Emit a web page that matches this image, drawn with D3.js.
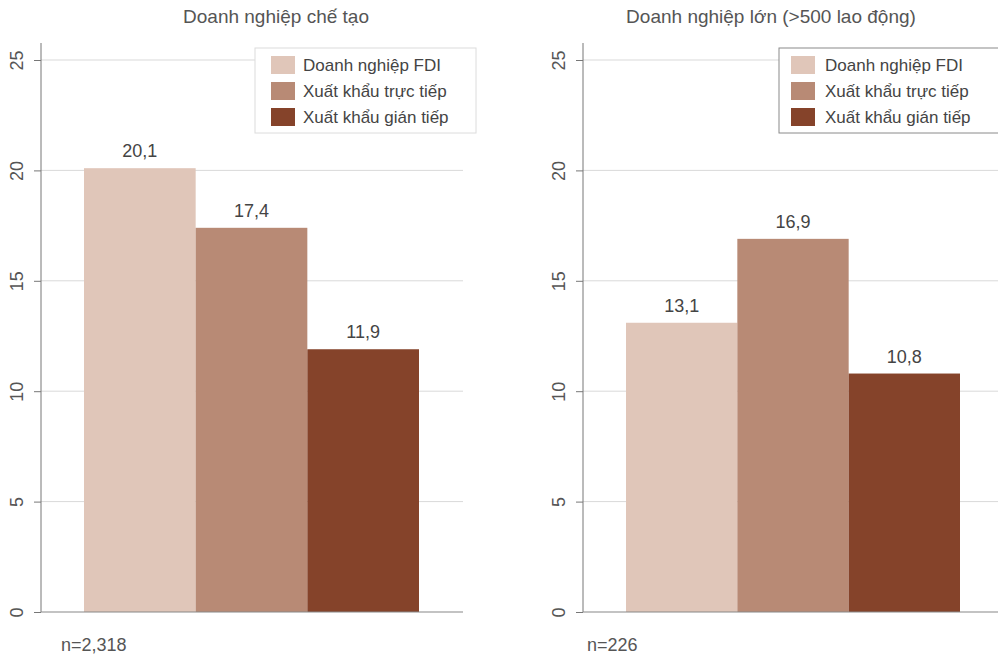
<!DOCTYPE html>
<html><head><meta charset="utf-8">
<script src="https://cdn.jsdelivr.net/npm/d3@7"></script>
<style>body{margin:0;background:#fff;} svg text{font-family:"Liberation Sans",Arial,sans-serif;}</style>
</head><body><svg id="c" width="998" height="656"></svg>
<script>
const series = ["Doanh nghiệp FDI", "Xuất khẩu trực tiếp", "Xuất khẩu gián tiếp"];
const colors = ["#e0c6b9", "#b88a75", "#85432a"];
const panelTitles = ["Doanh nghiệp chế tạo", "Doanh nghiệp lớn (>500 lao động)"];
const manufacturingValues = [20.1, 17.4, 11.9];
const largeFirmValues = [13.1, 16.9, 10.8];
const sampleSizes = ["n=2,318", "n=226"];
const yTicks = [0, 5, 10, 15, 20, 25];

const svg = d3.select("#c");
const fmt = v => String(v).replace(".", ",");
const panels = [
  {title: panelTitles[0], values: manufacturingValues, n: sampleSizes[0], ax: 41, xEnd: 463, barL: 84, barR: 419,
   legX: 255, legW: 221, legStroke: "#dcdcdc", swX: 16, txX: 48, titleX: 276, nX: 61},
  {title: panelTitles[1], values: largeFirmValues, n: sampleSizes[1], ax: 583, xEnd: 998, barL: 626, barR: 960,
   legX: 779, legW: 230, legStroke: "#8a8a8a", swX: 12, txX: 46, titleX: 771, nX: 587}
];
const y = d3.scaleLinear().domain([0, 25]).range([612, 60]);

panels.forEach(p => {
  const g = svg.append("g");
  g.selectAll(".grid").data(yTicks.filter(t => t > 0)).join("line")
    .attr("x1", p.ax).attr("x2", p.xEnd).attr("y1", d => y(d)).attr("y2", d => y(d))
    .attr("stroke", "#d9d9d9").attr("stroke-width", 1);
  const x = d3.scaleBand().domain(series).range([p.barL, p.barR]).padding(0);
  g.selectAll(".bar").data(p.values).join("rect")
    .attr("x", (d, i) => x(series[i])).attr("width", x.bandwidth())
    .attr("y", d => y(d)).attr("height", d => y(0) - y(d))
    .attr("fill", (d, i) => colors[i]);
  g.selectAll(".lbl").data(p.values).join("text")
    .attr("x", (d, i) => x(series[i]) + x.bandwidth() / 2).attr("y", d => y(d) - 11)
    .attr("text-anchor", "middle").attr("font-size", 18).attr("fill", "#444").text(d => fmt(d));
  const axis = g.append("g").attr("transform", `translate(${p.ax},0)`)
    .call(d3.axisLeft(y).tickValues(yTicks).tickSize(7).tickSizeOuter(0));
  axis.attr("font-family", null).attr("font-size", null);
  axis.select(".domain").remove();
  axis.selectAll(".tick line").attr("stroke", "#777");
  axis.selectAll(".tick text").attr("font-size", 18).attr("fill", "#555")
    .attr("text-anchor", "middle").attr("x", 0).attr("y", 0).attr("dy", "0.35em")
    .attr("transform", "translate(-24,0) rotate(-90)");
  g.append("line").attr("x1", p.ax).attr("x2", p.ax).attr("y1", 43).attr("y2", 612).attr("stroke", "#777");
  g.append("line").attr("x1", p.ax).attr("x2", p.xEnd).attr("y1", 612).attr("y2", 612).attr("stroke", "#888").attr("stroke-width", 1.2);
  g.append("text").attr("x", p.titleX).attr("y", 23).attr("text-anchor", "middle")
    .attr("font-size", 19).attr("fill", "#555").text(p.title);
  g.append("text").attr("x", p.nX).attr("y", 651).attr("font-size", 18).attr("fill", "#555").text(p.n);
  const lg = g.append("g").attr("transform", `translate(${p.legX},48)`);
  lg.append("rect").attr("width", p.legW).attr("height", 85).attr("fill", "#fff").attr("stroke", p.legStroke);
  series.forEach((s, i) => {
    lg.append("rect").attr("x", p.swX).attr("y", 8 + i * 26).attr("width", 24).attr("height", 18).attr("fill", colors[i]);
    lg.append("text").attr("x", p.txX).attr("y", 17 + i * 26).attr("dy", "0.35em")
      .attr("font-size", 17).attr("fill", "#444").text(s);
  });
});
</script></body></html>
